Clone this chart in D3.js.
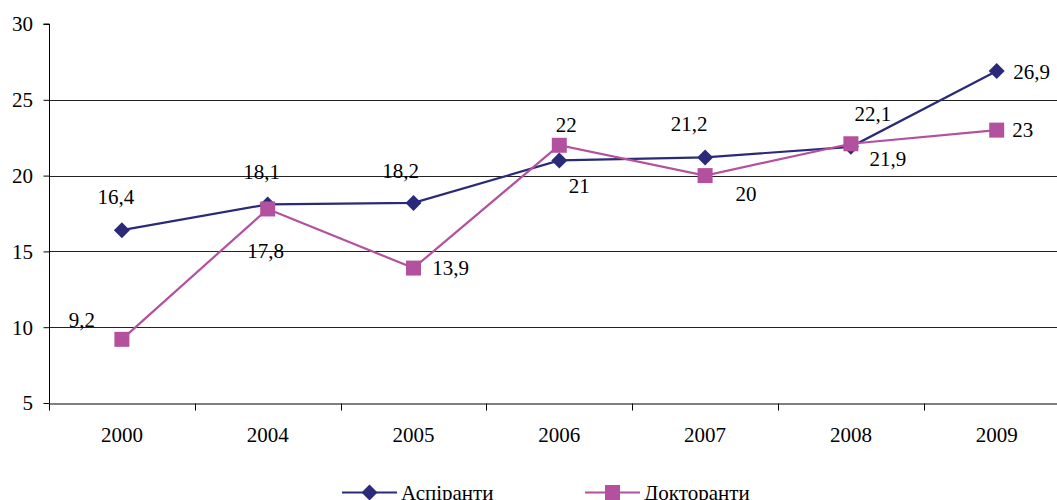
<!DOCTYPE html>
<html>
<head><meta charset="utf-8"><title>Аспіранти / Докторанти</title></head>
<body style="margin:0">
	<svg width="1057" height="500" font-family="Liberation Serif" style="font-family: 'Liberation Serif'"></svg>

<script src="https://d3js.org/d3.v7.min.js"></script>
<script>
	var years = ['2000', '2004', '2005', '2006', '2007', '2008', '2009'];
	var aspiranty = [16.4, 18.1, 18.2, 21, 21.2, 21.9, 26.9];
	var doktoranty = [9.2, 17.8, 13.9, 22, 20, 22.1, 23];
	var yTicks = [5, 10, 15, 20, 25, 30];
	var seriesNames = ['Аспіранти', 'Докторанти'];

	// where each value label sits, relative to its point
	var aspLabelOffsets = [[-6, -34], [-6, -33], [-13, -32], [20, 25], [-16, -34], [37, 12], [35, 1]];
	var dokLabelOffsets = [[-40, -20], [-2, 42], [37, 0], [7, -21], [41, 18], [22, -30], [26, 0]];

	const navy = '#2b2a78';
	const pink = '#b4519e';
	const fontSize = 21;

	var svg = d3.select('svg');

	var x = d3.scaleBand().domain(years).range([49, 49 + 7 * 145.8]);
	var y = d3.scaleLinear().domain([5, 30]).range([403, 24]);

	const fmt = v => String(v).replace('.', ',');

	// every text goes through here
	function label(g, tx, ty, str, anchor) {
		return g.append('text')
			.attr('x', tx).attr('y', ty)
			.attr('dy', '0.35em')
			.attr('text-anchor', anchor || 'middle')
			.style('font-family', '"Liberation Serif"')
			.style('font-size', fontSize + 'px')
			.attr('fill', '#000')
			.text(str);
	}

	// gridlines (not at the top value)
	svg.append('g').selectAll('line')
		.data(yTicks.filter(t => t > 5 && t < 30))
		.enter().append('line')
		.attr('x1', 49).attr('x2', 1057)
		.attr('y1', d => Math.round(y(d)) + .5).attr('y2', d => Math.round(y(d)) + .5)
		.attr('stroke', '#222').attr('stroke-width', 1);

	// y axis: ticks from d3, labels drawn by hand
	var yAxis = svg.append('g')
		.attr('transform', 'translate(49.5,0)')
		.call(d3.axisLeft(y).tickValues(yTicks).tickSize(6).tickFormat(''));
	yAxis.select('.domain').attr('stroke', '#000').attr('d', `M-6,${y(30)}H0V${y(5)}`);
	yAxis.selectAll('.tick line').attr('stroke', '#000');
	yAxis.selectAll('.tick text').remove();
	var yLabels = svg.append('g');
	yTicks.forEach(t => label(yLabels, 33, y(t), String(t), 'end'));

	// x axis
	var xAxis = svg.append('g')
		.attr('transform', `translate(0,${Math.round(y(5)) + .5})`)
		.call(d3.axisBottom(x).tickSize(0).tickFormat(''));
	xAxis.select('.domain').attr('stroke', '#000');
	xAxis.selectAll('.tick text').remove();
	// tick marks between categories
	xAxis.selectAll('.sep')
		.data(d3.range(years.length + 1))
		.enter().append('line').attr('class', 'sep')
		.attr('x1', i => Math.round(x.range()[0] + i * x.step()) + .5)
		.attr('x2', i => Math.round(x.range()[0] + i * x.step()) + .5)
		.attr('y1', 0).attr('y2', 7)
		.attr('stroke', '#000');
	var xLabels = svg.append('g');
	years.forEach(yr => label(xLabels, x(yr) + x.bandwidth() / 2, 435, yr));

	const cx = i => x(years[i]) + x.bandwidth() / 2;

	var line = d3.line()
		.x((d, i) => cx(i))
		.y(d => y(d));

	function diamond(g, px, py) {
		return g.append('path')
			.attr('d', `M${px},${py - 8}L${px + 8},${py}L${px},${py + 8}L${px - 8},${py}Z`)
			.attr('fill', navy);
	}
	function square(g, px, py) {
		return g.append('rect')
			.attr('x', px - 7.5).attr('y', py - 7.5)
			.attr('width', 15).attr('height', 15)
			.attr('fill', pink);
	}

	function drawSeries(values, color, marker, offsets) {
		var g = svg.append('g');
		g.append('path').datum(values)
			.attr('d', line)
			.attr('fill', 'none')
			.attr('stroke', color)
			.attr('stroke-width', 2.2);
		values.forEach((v, i) => marker(g, cx(i), y(v)));
		values.forEach((v, i) => label(g, cx(i) + offsets[i][0], y(v) + offsets[i][1], fmt(v)));
	}

	drawSeries(aspiranty, navy, diamond, aspLabelOffsets);
	drawSeries(doktoranty, pink, square, dokLabelOffsets);

	// legend (cut by the bottom edge, as in the original)
	var legend = svg.append('g');
	var legendItems = [
		{name: seriesNames[0], color: navy, marker: diamond, x: 342},
		{name: seriesNames[1], color: pink, marker: square, x: 585},
	];
	legendItems.forEach(it => {
		legend.append('line')
			.attr('x1', it.x).attr('x2', it.x + 55)
			.attr('y1', 492.5).attr('y2', 492.5)
			.attr('stroke', it.color).attr('stroke-width', 2.2);
		it.marker(legend, it.x + 27.5, 492.5);
		label(legend, it.x + 59, 492.5, it.name, 'start');
	});
</script>
</body>
</html>
